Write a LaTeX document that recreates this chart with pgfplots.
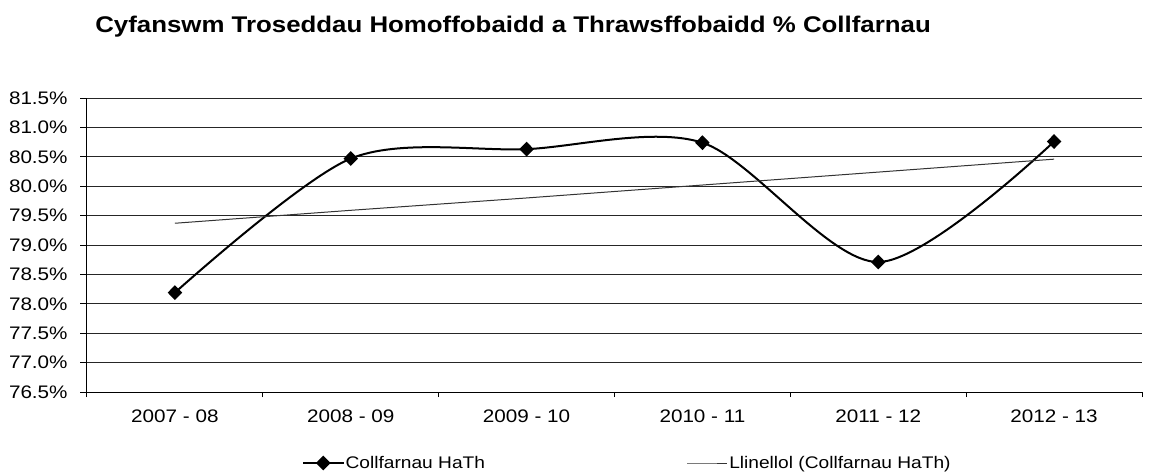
\documentclass[border=0pt]{standalone}
\usepackage{fontspec}
\setmainfont{Liberation Sans}[FakeStretch=1.14]
\usepackage{pgfplots}
\pgfplotsset{compat=1.18}
\begin{document}
\begin{tikzpicture}
\path[use as bounding box] (0pt,0pt) rectangle (874.5pt,354pt);
\node[anchor=base west, inner sep=0pt, font=\bfseries\fontsize{17}{19}\selectfont] at (71.25pt,329.25pt) {Cyfanswm Troseddau Homoffobaidd a Thrawsffobaidd \% Collfarnau};
\begin{axis}[
  at={(65.25pt,60pt)}, anchor=south west,
  scale only axis, width=791.25pt, height=220.5pt,
  xmin=-0.5, xmax=5.5, ymin=76.5, ymax=81.5,
  axis lines*=left,
  axis line style={black, line width=0.75pt},
  /pgf/number format/assume math mode=true,
  xtick={0,1,2,3,4,5},
  xticklabels={2007 - 08, 2008 - 09, 2009 - 10, 2010 - 11, 2011 - 12, 2012 - 13},
  major x tick style={draw=none},
  minor xtick={-0.5,0.5,1.5,2.5,3.5,4.5,5.5},
  minor tick length=3.75pt,
  minor x tick style={black, line width=0.75pt},
  ytick={76.5,77,...,81.5},
  yticklabel={\pgfmathprintnumber[fixed,fixed zerofill,precision=1]{\tick}\%},
  major tick length=5pt,
  tick align=outside,
  ytick style={black, line width=0.75pt},
  ymajorgrids,
  major grid style={black!85, line width=0.75pt},
  tick label style={font=\fontsize{13.6}{15}\selectfont, black},
  xticklabel style={yshift=-5pt},
  yticklabel style={xshift=-6pt},
  legend columns=2,
  legend style={at={(0.2038,-0.2415)}, anchor=west, draw=none, fill=none, inner sep=0pt,
     nodes={inner sep=1pt, font=\fontsize{12.6}{14}\selectfont}},
  legend cell align=left,
  legend image code/.code={\draw[mark repeat=2,mark phase=2,#1] plot coordinates {(0pt,0pt) (15pt,0pt) (30pt,0pt)};},
]
\addplot[black, line width=1.5pt, smooth, mark=diamond*, mark size=4.5pt, mark options={xscale=1.3, solid}] coordinates {
 (0,78.19) (1,80.47) (2,80.63) (3,80.74) (4,78.71) (5,80.76)};
\addlegendentry{\makebox[255pt][l]{Collfarnau HaTh}}
\addplot[black!80, line width=0.75pt] coordinates {
 (0,79.37) (1,79.59) (2,79.80) (3,80.02) (4,80.24) (5,80.46)};
\addlegendentry{Llinellol (Collfarnau HaTh)}
\end{axis}
\end{tikzpicture}
\end{document}
